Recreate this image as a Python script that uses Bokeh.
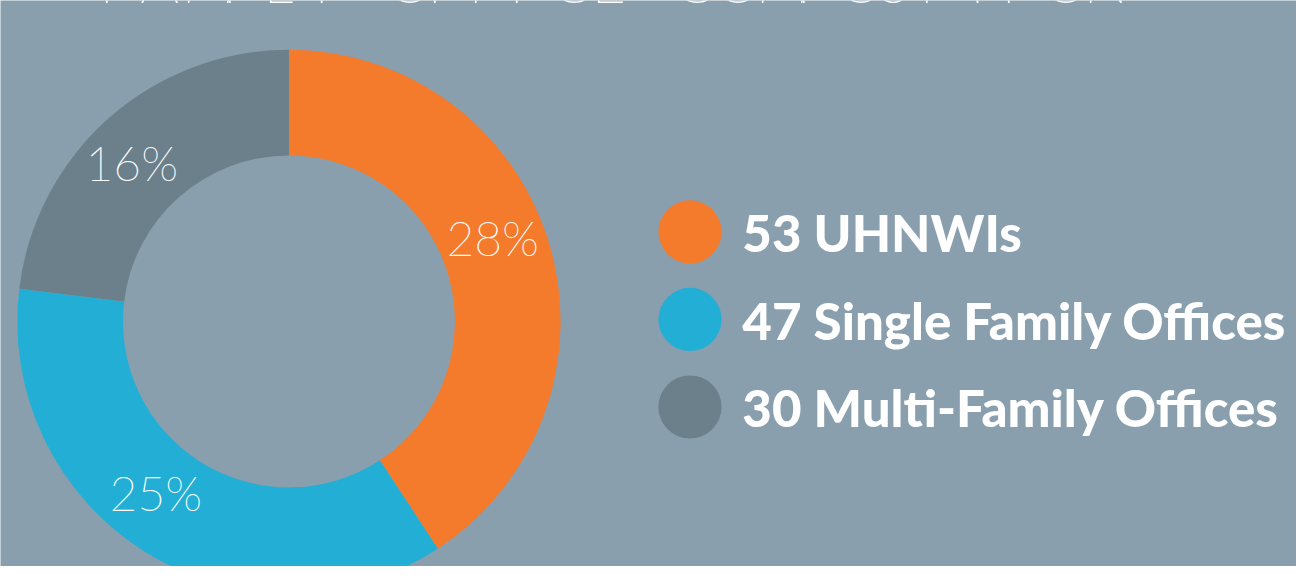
import numpy as np
from bokeh.plotting import figure
from bokeh.models import Range1d
from bokeh.core.properties import value
from bokeh.embed import file_html
from bokeh.resources import INLINE

# ---- data ----
categories = ["UHNWIs", "Single Family Offices", "Multi-Family Offices"]
counts = [53, 47, 30]
pct_labels = ["28%", "25%", "16%"]
colors = ["#F47B2C", "#23AFD5", "#6C808B"]
title_text = "FAMILY OFFICE COMPOSITION"

# ---- layout (in reference-pixel units, y measured upward) ----
RW, RH = 1312, 582
BG = "#899FAE"
cx, cy = 292, RH - 330
r_in, r_out = 168, 275
label_r = 224
label_offsets_deg = [-5, 4.5, -3]

p = figure(width=1296, height=566, x_range=Range1d(0, RW), y_range=Range1d(0, RH),
           output_backend="svg", toolbar_location=None, min_border=0)
p.axis.visible = False
p.grid.visible = False
p.outline_line_color = None
p.background_fill_color = BG
p.border_fill_color = BG

frac = np.array(counts, dtype=float) / sum(counts)
ends = np.cumsum(frac) * 2 * np.pi
starts = ends - frac * 2 * np.pi
p.annular_wedge(x=cx, y=cy, inner_radius=r_in, outer_radius=r_out,
                start_angle=list(np.pi / 2 - starts), end_angle=list(np.pi / 2 - ends),
                direction="clock", fill_color=colors, line_color=None)

mid = (starts + ends) / 2 + np.radians(label_offsets_deg)
lx = cx + label_r * np.sin(mid) - 2
ly = cy + label_r * np.cos(mid) + 4
p.text(x=list(lx), y=list(ly), text=pct_labels, text_color="white",
       text_font=value("Lato Thin"), text_font_size="48px",
       text_align="center", text_baseline="middle")

# legend
n = len(categories)
leg_y = [RH - 238 - 90 * i for i in range(n)]
p.circle(x=[698] * n, y=leg_y, radius=32, fill_color=colors, line_color=None)
p.text(x=[751] * n, y=[y - 1 for y in leg_y],
       text=[f"{c} {cat}" for c, cat in zip(counts, categories)],
       text_color="white", text_font=value("Lato Black"), text_font_style="bold",
       text_font_size="51px", text_align="left", text_baseline="middle")

# title (mostly cropped at top, as in the reference)
chars = list(title_text)
tx = [100 + 41.5 * i for i in range(len(chars))]
p.text(x=tx, y=[RH + 21] * len(chars), text=chars, text_color="white",
       text_font=value("Lato Thin"), text_font_size="60px",
       text_align="left", text_baseline="middle")

open("out.html", "w").write(file_html(p, INLINE))
